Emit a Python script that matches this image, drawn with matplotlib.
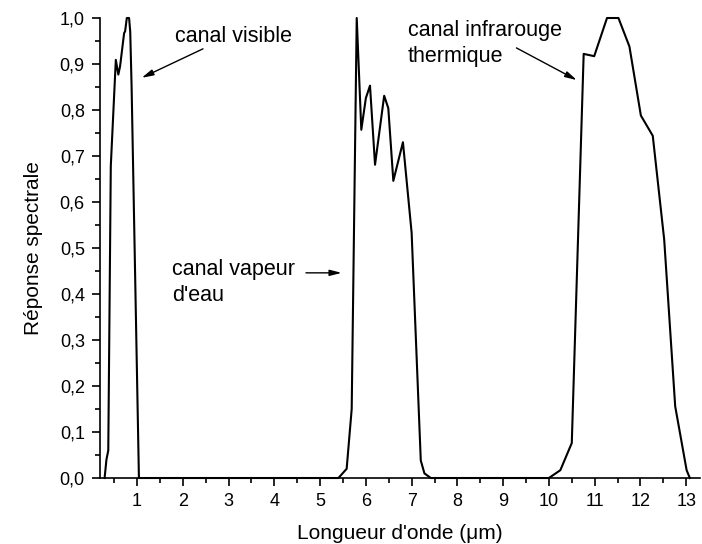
import matplotlib
matplotlib.use("Agg")
import matplotlib.pyplot as plt
from matplotlib.ticker import MultipleLocator, FuncFormatter

plt.rcParams['font.family'] = ['Liberation Sans', 'DejaVu Sans']

# spectral response of the three channels (wavelength in micrometres)
vis_wl = [0.29, 0.31, 0.33, 0.35, 0.37, 0.425, 0.535, 0.59, 0.628, 0.716, 0.738,
          0.775, 0.825, 0.85, 0.88, 1.04]
vis_resp = [0.0, 0.02, 0.04, 0.05, 0.06, 0.678, 0.909, 0.877, 0.895, 0.967, 0.971,
            1.0, 1.0, 0.97, 0.85, 0.0]

wv_wl = [1.04, 5.40, 5.58, 5.69, 5.80, 5.90, 6.00, 6.09, 6.20, 6.40, 6.49, 6.60,
         6.81, 7.00, 7.20, 7.28, 7.42]
wv_resp = [0.0, 0.0, 0.02, 0.15, 1.0, 0.757, 0.826, 0.853, 0.681, 0.831, 0.804,
           0.646, 0.730, 0.533, 0.038, 0.01, 0.0]

ir_wl = [7.42, 10.0, 10.25, 10.50, 10.76, 10.99, 11.27, 11.52, 11.76, 12.01,
         12.27, 12.52, 12.76, 13.01, 13.08]
ir_resp = [0.0, 0.0, 0.017, 0.076, 0.922, 0.917, 1.0, 1.0, 0.938, 0.788,
           0.744, 0.518, 0.156, 0.017, 0.0]

wl = vis_wl + wv_wl + ir_wl
resp = vis_resp + wv_resp + ir_resp

fig = plt.figure(figsize=(7.02, 5.44), dpi=100)
ax = fig.add_axes([0.1425, 0.1213, 0.8545, 0.8456])

ax.plot(wl, resp, color='black', lw=1.5, clip_on=False)

ax.set_xlim(0.19, 13.3)
ax.set_ylim(0, 1.0)
ax.xaxis.set_major_locator(MultipleLocator(1))
ax.xaxis.set_minor_locator(MultipleLocator(0.5))
ax.yaxis.set_major_locator(MultipleLocator(0.1))
ax.yaxis.set_minor_locator(MultipleLocator(0.05))
ax.yaxis.set_major_formatter(FuncFormatter(lambda v, p: f"{v:.1f}".replace('.', ',')))
ax.xaxis.set_major_formatter(FuncFormatter(lambda v, p: f"{v:.0f}"))

ax.spines['top'].set_visible(False)
ax.spines['right'].set_visible(False)
for s in ('left', 'bottom'):
    ax.spines[s].set_linewidth(1.2)
ax.tick_params(which='major', direction='out', length=6, width=1.2, labelsize=13, pad=5)
ax.tick_params(which='minor', direction='out', length=3.5, width=1.2)

ax.set_xlabel("Longueur d'onde (\u03bcm)", fontsize=15, labelpad=10)
ax.set_ylabel("Réponse spectrale", fontsize=15, labelpad=12)

# channel labels with their arrows
arrow = dict(arrowstyle='-|>,head_length=0.7,head_width=0.18', color='black', lw=1.0,
             shrinkA=0, shrinkB=0)
ax.text(1.83, 0.96, "canal visible", fontsize=15.5, va='center', ha='left')
ax.annotate("", xy=(1.10, 0.87), xytext=(2.44, 0.933), arrowprops=arrow)

ax.text(1.76, 0.425, "canal vapeur\nd'eau", fontsize=15.5, va='center', ha='left',
        linespacing=1.35)
ax.annotate("", xy=(5.47, 0.446), xytext=(4.69, 0.446), arrowprops=arrow)

ax.text(6.92, 0.945, "canal infrarouge\nthermique", fontsize=15.5, va='center',
        ha='left', linespacing=1.35)
ax.annotate("", xy=(10.61, 0.865), xytext=(9.29, 0.935), arrowprops=arrow)

fig.savefig("out.png", dpi=100)
